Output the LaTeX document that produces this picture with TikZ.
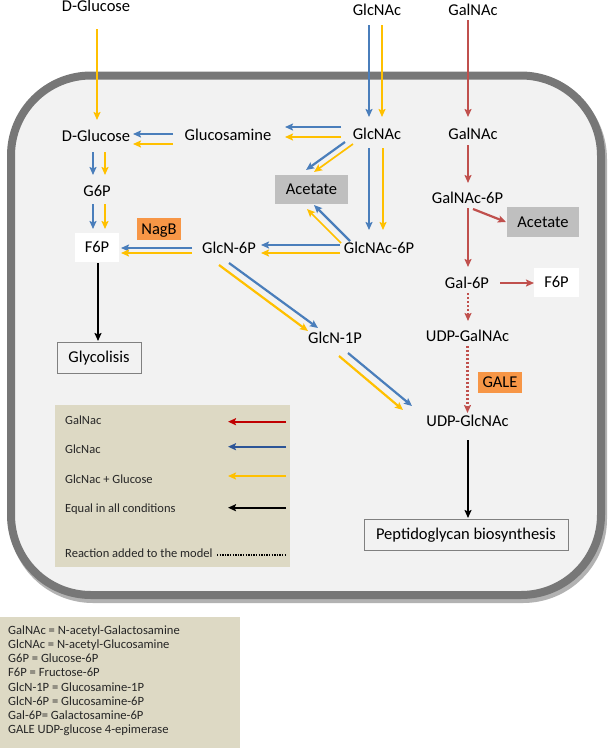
\documentclass[tikz,border=0pt]{standalone}
\usepackage{fontspec}
\setmainfont{Carlito}
\usetikzlibrary{arrows.meta}
\definecolor{cellfill}{HTML}{F2F2F2}
\definecolor{cellborder}{HTML}{777777}
\definecolor{arblue}{HTML}{4A7EBB}
\definecolor{aryellow}{HTML}{FFC000}
\definecolor{arred}{HTML}{C0504D}
\definecolor{boxgray}{HTML}{BFBFBF}
\definecolor{boxorange}{HTML}{F79646}
\definecolor{legtan}{HTML}{DDD9C4}
\definecolor{legred}{HTML}{C00000}
\definecolor{legblue}{HTML}{2C5597}
\definecolor{frameline}{HTML}{808080}
\newcommand{\conn}[5]{\draw[#1] ([shift={#3}]#2.center) -- ([shift={#5}]#4.center);}
\begin{document}
\begin{tikzpicture}[x=1pt,y=-1pt,
  lbl/.style={font=\fontsize{16.5}{20}\selectfont, inner sep=0pt, text height=10.7pt, text depth=0pt},
  boxbase/.style={lbl},
  whitebox/.style={boxbase, fill=white},
  graybox/.style={boxbase, fill=boxgray},
  orangebox/.style={boxbase, fill=boxorange},
  framebox/.style={boxbase, draw=frameline, line width=0.9pt},
  legtxt/.style={font=\fontsize{12.5}{14}\selectfont, inner sep=0pt, text=black!85, anchor=base west},
  abbrtxt/.style={font=\fontsize{12.6}{14.2}\selectfont, inner sep=0pt, text=black!85, anchor=base west},
  tipshape/.style={-{Stealth[length=8pt,width=7pt,inset=1.5pt]}},
  bluearr/.style={tipshape, draw=arblue, line width=2.2pt},
  yelarr/.style={tipshape, draw=aryellow, line width=1.7pt},
  redarr/.style={tipshape, draw=arred, line width=2.2pt},
  reddot/.style={redarr, dash pattern=on 2pt off 2pt},
  blkarr/.style={tipshape, draw=black, line width=2.2pt},
]
\useasboundingbox (0,0) rectangle (609,748);
\fill[white] (0,0) rectangle (609,748);

% cell
\draw[black!30, line width=8pt, rounded corners=80pt] (13,79) rectangle (603,599);
\draw[cellborder, line width=8pt, fill=cellfill, rounded corners=80pt] (11,75.5) rectangle (601,595);

% legend box
\node[fill=legtan, minimum width=235, minimum height=162, inner sep=0pt, anchor=north west] (legend) at (55,405) {};
% abbreviations box
\node[fill=legtan, minimum width=240, minimum height=131, inner sep=0pt, anchor=north west] (abbrbox) at (0,617) {};

% nodes
\node[lbl] (dgluO) at (96,6) {D-Glucose};
\node[lbl] (glcnacO) at (377,10) {GlcNAc};
\node[lbl] (galnacO) at (473,10) {GalNAc};
\node[lbl] (dglu) at (96,136) {D-Glucose};
\node[lbl] (glucosamine) at (228,135) {Glucosamine};
\node[lbl] (glcnac) at (377,134) {GlcNAc};
\node[lbl] (galnac) at (473,134) {GalNAc};
\node[lbl] (g6p) at (97,191) {G6P};
\node[whitebox, minimum width=44, minimum height=29] (f6p) at (97,247.5) {F6P};
\node[orangebox, minimum width=44, minimum height=22] (nagb) at (159,229) {NagB};
\node[lbl] (glcn6p) at (229,248) {GlcN-6P};
\node[lbl] (glcnac6p) at (379,248) {GlcNAc-6P};
\node[graybox, minimum width=73, minimum height=29] (acet1) at (311.5,189.5) {Acetate};
\node[lbl] (galnac6p) at (467.5,198) {GalNAc-6P};
\node[graybox, minimum width=72, minimum height=30] (acet2) at (543,222) {Acetate};
\node[lbl] (gal6p) at (467,283) {Gal-6P};
\node[whitebox, minimum width=45, minimum height=29] (f6pb) at (556.5,282.5) {F6P};
\node[lbl] (udpgalnac) at (467.5,336) {UDP-GalNAc};
\node[orangebox, minimum width=44, minimum height=21] (gale) at (500,382.5) {GALE};
\node[lbl] (udpglcnac) at (467.5,421) {UDP-GlcNAc};
\node[lbl] (glcn1p) at (335,338) {GlcN-1P};
\node[framebox, minimum width=84, minimum height=31] (glyco) at (99,357.5) {Glycolisis};
\node[framebox, minimum width=204, minimum height=31] (pepti) at (466,534.5) {Peptidoglycan biosynthesis};

% connectors
\conn{yelarr}{dgluO}{(1,23)}{dglu}{(1,-16)}
\conn{bluearr}{glcnacO}{(-8,15)}{glcnac}{(-8,-17)}
\conn{yelarr}{glcnacO}{(5,15)}{glcnac}{(5,-17)}
\conn{redarr}{galnacO}{(-5,10)}{galnac}{(-5,-17)}
\conn{bluearr}{glucosamine}{(-55,-1)}{dglu}{(37,-2)}
\conn{yelarr}{glucosamine}{(-55,9)}{dglu}{(37,8)}
\conn{bluearr}{glcnac}{(-36,-7)}{glucosamine}{(57,-8)}
\conn{yelarr}{glcnac}{(-36,3)}{glucosamine}{(57,2)}
\conn{bluearr}{glcnac}{(-32,8)}{acet1}{(-5.5,-19.5)}
\conn{yelarr}{glcnac}{(-24,10)}{acet1}{(2.5,-17.5)}
\conn{bluearr}{glcnac}{(-8,14)}{glcnac6p}{(-10,-18)}
\conn{yelarr}{glcnac}{(6,14)}{glcnac6p}{(4,-18)}
\conn{bluearr}{glcnac6p}{(-29,-7)}{acet1}{(2.5,15.5)}
\conn{yelarr}{glcnac6p}{(-38,-5)}{acet1}{(-4.5,19.5)}
\conn{bluearr}{glcnac6p}{(-39,-3)}{glcn6p}{(32,-3)}
\conn{yelarr}{glcnac6p}{(-39,5)}{glcn6p}{(32,5)}
\conn{bluearr}{glcn6p}{(-37,0)}{f6p}{(24,0.5)}
\conn{yelarr}{glcn6p}{(-37,5)}{f6p}{(24,5.5)}
\conn{bluearr}{dglu}{(-3,16)}{g6p}{(-4,-16)}
\conn{yelarr}{dglu}{(9,16)}{g6p}{(8,-16)}
\conn{bluearr}{g6p}{(-4,13)}{f6p}{(-4,-18.5)}
\conn{yelarr}{g6p}{(8,13)}{f6p}{(8,-18.5)}
\conn{blkarr}{f6p}{(1,15.5)}{glyco}{(-1,-16.5)}
\conn{bluearr}{glcn6p}{(0,15)}{glcn1p}{(-17,-10)}
\conn{yelarr, line width=2.2pt}{glcn6p}{(-10,17)}{glcn1p}{(-27,-7)}
\conn{bluearr}{glcn1p}{(13,15)}{udpglcnac}{(-55.5,-15)}
\conn{yelarr, line width=2.2pt}{glcn1p}{(4,18)}{udpglcnac}{(-64.5,-11)}
\conn{redarr}{galnac}{(-5,11)}{galnac6p}{(0.5,-15)}
\conn{redarr}{galnac6p}{(5.5,11)}{acet2}{(-37,0)}
\conn{redarr}{galnac6p}{(0.5,10)}{gal6p}{(1,-16)}
\conn{redarr}{gal6p}{(33,0)}{f6pb}{(-22.5,0.5)}
\conn{reddot}{gal6p}{(1,10)}{udpgalnac}{(0.5,-15)}
\conn{reddot}{udpgalnac}{(0,10)}{udpglcnac}{(0,-8)}
\conn{blkarr}{udpglcnac}{(0.5,19)}{pepti}{(2,-16.5)}

% legend
\node[legtxt] (lg1) at (65,424) {GalNac};
\node[legtxt] (lg2) at (65,453.3) {GlcNac};
\node[legtxt] (lg3) at (65,483.3) {GlcNac + Glucose};
\node[legtxt] (lg4) at (65,512.7) {Equal in all conditions};
\node[legtxt] (lg5) at (65,557.7) {Reaction added to the model};
\coordinate (lr1) at (286,421.7); \coordinate (lr0) at (228,421.7);
\coordinate (lb1) at (286,446.7); \coordinate (lb0) at (228,446.7);
\coordinate (ly1) at (286,476);   \coordinate (ly0) at (228,476);
\coordinate (lk1) at (286,507.7); \coordinate (lk0) at (228,507.7);
\coordinate (ld1) at (286,555);   \coordinate (ld0) at (217,555);
\draw[tipshape, draw=legred, line width=2pt] (lr1) -- (lr0);
\draw[tipshape, draw=legblue, line width=2pt] (lb1) -- (lb0);
\draw[tipshape, draw=aryellow, line width=2pt] (ly1) -- (ly0);
\draw[tipshape, draw=black, line width=2pt] (lk1) -- (lk0);
\draw[black, line width=1.3pt, dash pattern=on 1.3pt off 1.3pt] (ld0) -- (ld1);

% abbreviations
\node[abbrtxt] (ab1) at (8,634.3) {GalNAc = N-acetyl-Galactosamine};
\node[abbrtxt] (ab2) at (8,648.5) {GlcNAc = N-acetyl-Glucosamine};
\node[abbrtxt] (ab3) at (8,662.7) {G6P = Glucose-6P};
\node[abbrtxt] (ab4) at (8,676.9) {F6P = Fructose-6P};
\node[abbrtxt] (ab5) at (8,691.1) {GlcN-1P = Glucosamine-1P};
\node[abbrtxt] (ab6) at (8,705.3) {GlcN-6P = Glucosamine-6P};
\node[abbrtxt] (ab7) at (8,719.5) {Gal-6P= Galactosamine-6P};
\node[abbrtxt] (ab8) at (8,733.7) {GALE UDP-glucose 4-epimerase};
\end{tikzpicture}
\end{document}
